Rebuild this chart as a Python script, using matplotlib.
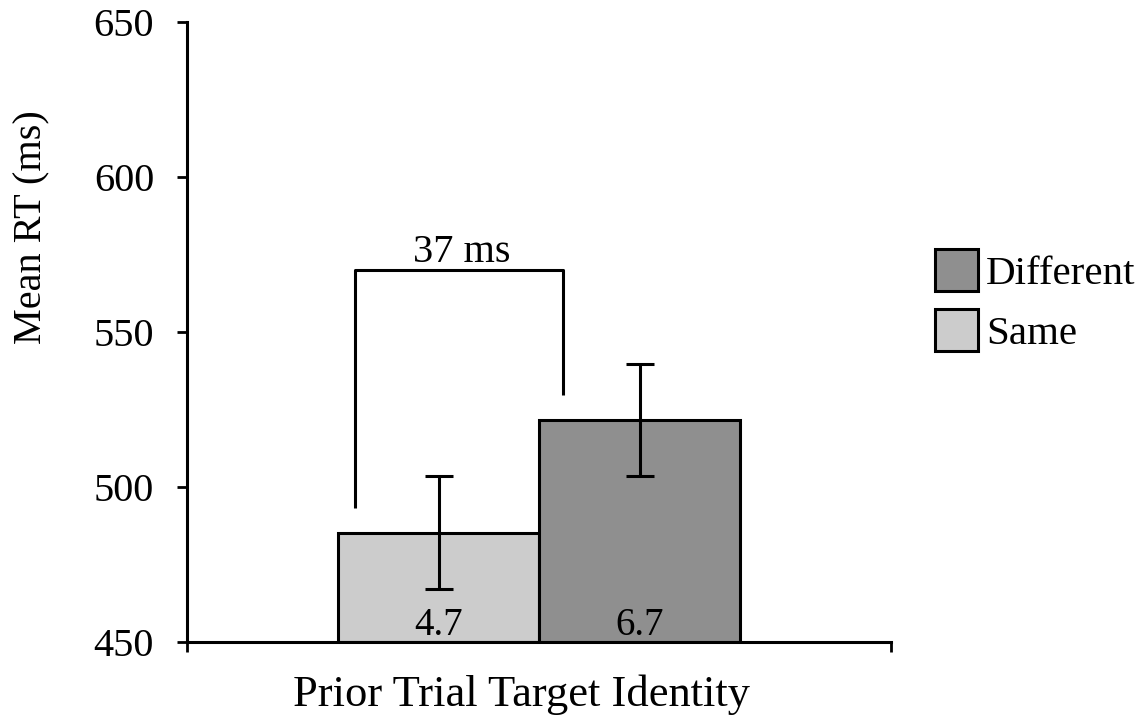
import matplotlib.pyplot as plt
from matplotlib.patches import Patch

conditions = ['Same', 'Different']
mean_rt = [485.2, 521.6]
se_rt = [18.2, 18.1]
bar_labels = ['4.7', '6.7']
bar_colors = ['#cccccc', '#8f8f8f']
diff_label = '37 ms'

plt.rcParams['font.family'] = ['Liberation Serif', 'DejaVu Serif']

fig = plt.figure(figsize=(11.43, 7.23), dpi=100)
ax = fig.add_axes([0.1639, 0.1124, 0.7795 - 0.1639, 0.9696 - 0.1124])

x = [0, 1]
ax.bar(x, [m - 450 for m in mean_rt], bottom=450, width=1.0, color=bar_colors,
       edgecolor='black', linewidth=2.2, zorder=2)
ax.errorbar(x, mean_rt, yerr=se_rt, fmt='none', ecolor='black',
            elinewidth=2.2, capsize=10, capthick=2.2, zorder=3)

for xi, lab in zip(x, bar_labels):
    ax.text(xi, 452.1, lab, ha='center', va='baseline', fontsize=28, zorder=4)

# bracket over the two bars
bx_left = x[0] - 0.415
bx_right = x[1] - 0.38
b_top = 570
ax.plot([bx_left, bx_left, bx_right, bx_right],
        [mean_rt[0] + 8, b_top, b_top, mean_rt[1] + 8],
        color='black', linewidth=2.2, solid_capstyle='butt', zorder=3)
ax.text((bx_left + bx_right) / 2 + 0.01, b_top + 2.6, diff_label,
        ha='center', va='baseline', fontsize=29)

ax.set_ylim(450, 650)
ax.set_xlim(-1.25, 2.25)
ax.set_yticks([450, 500, 550, 600, 650])
ax.set_xticks([-1.25, 2.25])
ax.set_xticklabels(['', ''])
ax.tick_params(axis='y', direction='out', length=7, width=2, labelsize=29, pad=17)
ax.tick_params(axis='x', direction='out', length=7, width=2)
for s in ['top', 'right']:
    ax.spines[s].set_visible(False)
for s in ['left', 'bottom']:
    ax.spines[s].set_linewidth(2.2)

fig.text(32 / 1143, 1 - 227 / 723, 'Mean RT (ms)', rotation=90,
         ha='center', va='center', fontsize=29)
fig.text(521 / 1143, 1 - 695 / 723, 'Prior Trial Target Identity',
         ha='center', va='center', fontsize=32)

handles = [Patch(facecolor=bar_colors[1], edgecolor='black', linewidth=2.2, label=conditions[1]),
           Patch(facecolor=bar_colors[0], edgecolor='black', linewidth=2.2, label=conditions[0])]
fig.legend(handles=handles, loc='upper left', bbox_to_anchor=(935 / 1143, 1 - 249 / 723),
           frameon=False, fontsize=29.5, handlelength=1.05, handleheight=1.2,
           handletextpad=0.2, labelspacing=0.4, borderaxespad=0, borderpad=0)

fig.savefig('out.png', dpi=100)
